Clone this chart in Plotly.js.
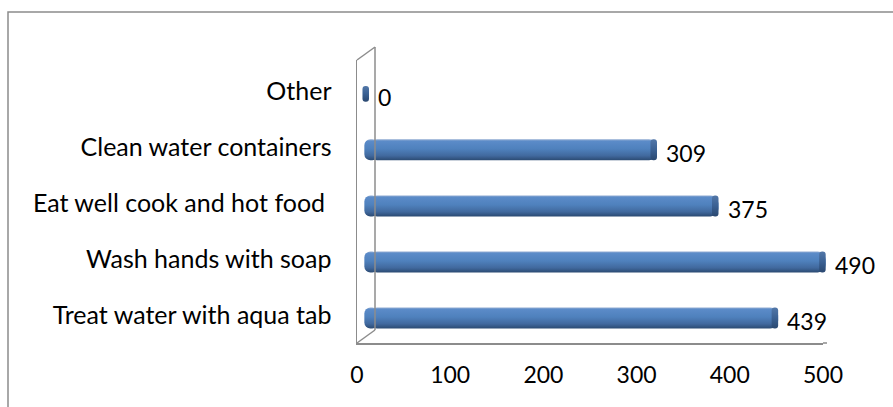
<!DOCTYPE html>
<html>
<head>
<meta charset="utf-8">
<script src="https://cdn.plot.ly/plotly-3.0.1.min.js"></script>
<style>html,body{margin:0;padding:0;background:#fff;}#chart{width:893px;height:407px;}</style>
</head>
<body>
<div id="chart"></div>
<script>
// ---- data ----
const categories = ['Treat water with aqua tab', 'Wash hands with soap', 'Eat well cook and hot food\u00a0', 'Clean water containers', 'Other'];
const values = [439, 490, 375, 309, 0];
const tickValues = [0, 100, 200, 300, 400, 500];

// ---- style ----
const W = 893, H = 407;
const FONT = {family: 'Lato, "Open Sans", sans-serif', size: 23, color: '#000000'};
const CAT_FONT = {family: 'Lato, "Open Sans", sans-serif', size: 25, color: '#000000'};
const GRID = '#8c8c8c';
const idx = categories.map((c, i) => i);
const px = v => v / W;
const py = v => 1 - v / H;

const barThick = 0.375;
const capLen = 7;

const traces = [
  { // invisible trace to draw the front axes
    type: 'scatter', mode: 'markers', xaxis: 'x', yaxis: 'y',
    x: [0], y: [0], marker: {opacity: 0}, hoverinfo: 'skip', showlegend: false
  },
  { // left rounded end
    type: 'bar', orientation: 'h', xaxis: 'x2', yaxis: 'y2',
    y: idx, base: values.map(v => v > 0 ? 10 : 0), x: values.map(v => v > 0 ? -15 : 0),
    width: barThick, marker: {color: '#4F81BD', cornerradius: '50%', line: {width: 0}},
    hoverinfo: 'skip', showlegend: false
  },
  { // body
    type: 'bar', orientation: 'h', xaxis: 'x2', yaxis: 'y2',
    y: idx, base: 0, x: values,
    width: barThick, marker: {color: '#4F81BD', cornerradius: 8, line: {width: 0}},
    hoverinfo: 'skip', showlegend: false
  },
  { // end cap
    type: 'bar', orientation: 'h', xaxis: 'x2', yaxis: 'y2',
    y: idx, base: values.map(v => v - capLen), x: values.map(() => capLen),
    width: values.map(v => v > 0 ? barThick : 0.28),
    marker: {color: '#385D8A', cornerradius: 3, line: {width: 0}},
    hoverinfo: 'skip', showlegend: false
  }
];

const annotations = values.map((v, i) => ({
  xref: 'x2', yref: 'y2', x: v, y: i, text: String(v),
  xanchor: 'left', yanchor: 'middle', xshift: 7, yshift: -3,
  showarrow: false, font: FONT
}));

const line = (x0, y0, x1, y1) => ({
  type: 'line', xref: 'paper', yref: 'paper',
  x0: px(x0), y0: py(y0), x1: px(x1), y1: py(y1),
  line: {color: GRID, width: 1.5}
});

const shapes = [
  {type: 'rect', xref: 'paper', yref: 'paper', x0: px(8), y0: py(12), x1: 1.02, y1: -0.02,
   line: {color: GRID, width: 1.5}, fillcolor: 'rgba(0,0,0,0)'},
  line(375, 47, 375, 330),
  line(357, 60, 375, 47),
  line(357, 343, 375, 330),
  line(823, 343, 827, 343)
];

// bar axis: value 0 at x=369px, 0.932 px per unit
const x2min = -15;
const layout = {
  width: W, height: H, autosize: false,
  margin: {l: 0, r: 0, t: 0, b: 0, pad: 0},
  paper_bgcolor: '#ffffff', plot_bgcolor: 'rgba(0,0,0,0)',
  barmode: 'overlay',
  font: FONT,
  showlegend: false,
  xaxis: {
    domain: [px(357), px(823)], range: [0, 500], anchor: 'y',
    tickmode: 'array', tickvals: tickValues, ticktext: tickValues.map(String),
    showgrid: false, zeroline: false, showline: true, linecolor: GRID, linewidth: 1.5,
    ticks: 'outside', ticklen: 11, tickcolor: 'rgba(0,0,0,0)', tickfont: FONT, fixedrange: true
  },
  yaxis: {
    domain: [py(343), py(60)], range: [-0.5, 4.55], anchor: 'x',
    tickmode: 'array', tickvals: idx, ticktext: categories,
    showgrid: false, zeroline: false, showline: true, linecolor: GRID, linewidth: 1.5,
    ticks: 'outside', ticklen: 19, tickcolor: 'rgba(0,0,0,0)', tickfont: CAT_FONT, fixedrange: true
  },
  xaxis2: {
    domain: [px(369 + x2min * 0.932), px(835)], range: [x2min, 500], anchor: 'y2', visible: false, fixedrange: true
  },
  yaxis2: {
    domain: [py(346), py(63)], range: [-0.5, 4.55], anchor: 'x2', visible: false, fixedrange: true
  },
  shapes: shapes,
  annotations: annotations
};

Plotly.newPlot('chart', traces, layout, {staticPlot: true, displayModeBar: false}).then(gd => {
  const svg = gd.querySelector('.main-svg');
  let defs = svg.querySelector('defs');
  const NS = 'http://www.w3.org/2000/svg';
  const mkGrad = (id, stops) => {
    const g = document.createElementNS(NS, 'linearGradient');
    g.setAttribute('id', id);
    g.setAttribute('x1', '0'); g.setAttribute('y1', '0');
    g.setAttribute('x2', '0'); g.setAttribute('y2', '1');
    stops.forEach(([o, c]) => {
      const s = document.createElementNS(NS, 'stop');
      s.setAttribute('offset', o); s.setAttribute('stop-color', c);
      g.appendChild(s);
    });
    defs.appendChild(g);
  };
  mkGrad('gBody', [[0, '#93ADD3'], [0.09, '#5B8BC8'], [0.45, '#4F81BD'], [0.78, '#41699E'], [1, '#2B4A72']]);
  mkGrad('gCap', [[0, '#5277A8'], [0.5, '#3B6193'], [1, '#2A4870']]);
  const tr = gd.querySelectorAll('.barlayer .trace');
  tr.forEach((t, i) => {
    t.querySelectorAll('path').forEach(p => {
      p.style.fill = i === 2 ? 'url(#gCap)' : 'url(#gBody)';
    });
  });
});
</script>
</body>
</html>
